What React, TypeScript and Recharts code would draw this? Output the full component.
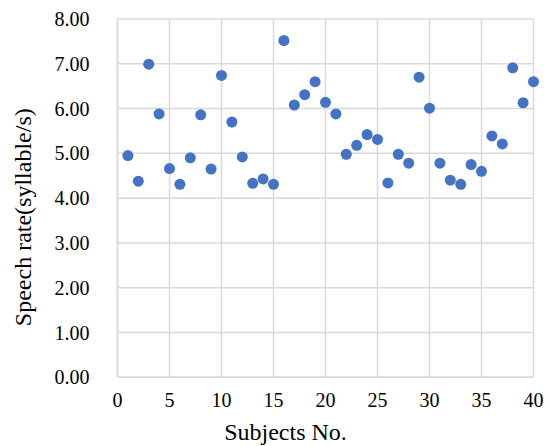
import React from 'react';
import { ScatterChart, Scatter, XAxis, YAxis, CartesianGrid } from 'recharts';

const subjects = [1,2,3,4,5,6,7,8,9,10,11,12,13,14,15,16,17,18,19,20,21,22,23,24,25,26,27,28,29,30,31,32,33,34,35,36,37,38,39,40];
const speechRates = [4.95,4.38,6.99,5.88,4.66,4.31,4.90,5.86,4.65,6.74,5.70,4.92,4.33,4.43,4.31,7.52,6.08,6.31,6.60,6.14,5.88,4.98,5.18,5.42,5.31,4.34,4.98,4.78,6.70,6.01,4.78,4.40,4.31,4.75,4.60,5.39,5.21,6.91,6.13,6.60];
const xTicks = [0,5,10,15,20,25,30,35,40];
const yTicks = [0,1,2,3,4,5,6,7,8];

const data = subjects.map((s, i) => ({ x: s, y: speechRates[i] }));

const FONT = 'Liberation Serif';

const Dot = (props: any) => <circle cx={props.cx} cy={props.cy} r={5.5} fill="#4472C4" />;

function XTick(props: any) {
  return (
    <text x={props.x} y={props.y} dy={14} textAnchor="middle" fill="#000" fontFamily={FONT} fontSize={20}>
      {String(props.payload.value)}
    </text>
  );
}

function YTick(props: any) {
  return (
    <text x={props.x} y={props.y} dy={7} textAnchor="end" fill="#000" fontFamily={FONT} fontSize={20}>
      {Number(props.payload.value).toFixed(2)}
    </text>
  );
}

export default function App() {
  return (
    <div style={{ position: 'absolute', left: 0, top: 0, background: '#fff', fontFamily: FONT }}>
      <ScatterChart width={550} height={446} margin={{ top: 19, right: 16.5, bottom: 0, left: 0 }}>
        <CartesianGrid stroke="#d9d9d9" strokeWidth={1.5} horizontalValues={yTicks} verticalValues={xTicks} />
        <XAxis
          type="number"
          dataKey="x"
          domain={[0, 40]}
          ticks={xTicks}
          tickLine={false}
          axisLine={{ stroke: '#d9d9d9', strokeWidth: 1.5 }}
          height={68.7}
          tickMargin={10}
          tick={(p: any) => <XTick {...p} />}
          label={{ value: 'Subjects No.', position: 'insideBottom', offset: 6, dx: -40, fill: '#000', fontSize: 24, fontFamily: FONT }}
        />
        <YAxis
          type="number"
          dataKey="y"
          domain={[0, 8]}
          ticks={yTicks}
          tickLine={false}
          axisLine={{ stroke: '#d9d9d9', strokeWidth: 1.5 }}
          width={117.5}
          tickMargin={22}
          tick={(p: any) => <YTick {...p} />}
          label={{ value: 'Speech rate(syllable/s)', angle: -90, position: 'insideLeft', offset: 22, dy: 128, fill: '#000', fontSize: 24, fontFamily: FONT }}
        />
        <Scatter data={data} shape={Dot} isAnimationActive={false} />
      </ScatterChart>
    </div>
  );
}
